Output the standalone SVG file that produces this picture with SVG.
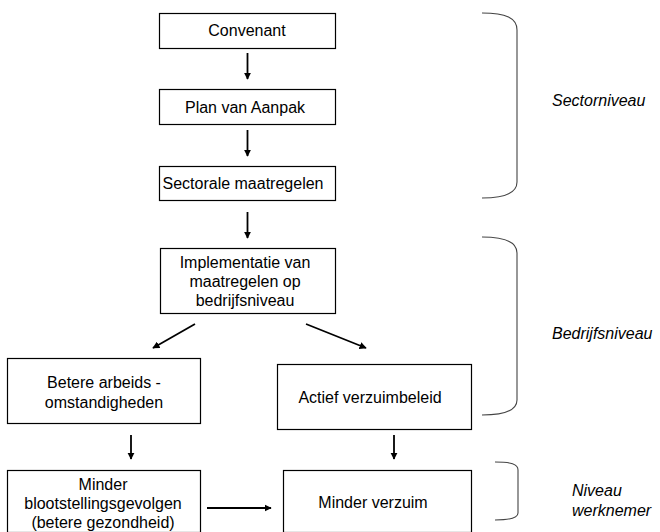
<svg xmlns="http://www.w3.org/2000/svg" width="660" height="532" viewBox="0 0 660 532">
<defs>
<style>
.box{fill:#fff;stroke:#000;stroke-width:1.2}
.t{font-family:"Liberation Sans",Arial,sans-serif;font-size:16px;fill:#000;text-anchor:middle}
.lbl{font-family:"Liberation Sans",Arial,sans-serif;font-size:16px;font-style:italic;fill:#000}
.arr{stroke:#000;stroke-width:1.8;fill:none;marker-end:url(#ah)}
.brace{stroke:#444;stroke-width:1.1;fill:none}
</style>
<marker id="ah" viewBox="0 0 10 10" refX="9" refY="5" markerWidth="4" markerHeight="4" markerUnits="strokeWidth" orient="auto">
<path d="M0,0 L10,5 L0,10 z" fill="#000"/>
</marker>
</defs>
<rect width="660" height="532" fill="#fff"/>
<g id="n1"><rect class="box" x="159.5" y="13.5" width="176" height="35"/><text class="t" x="247" y="36">Convenant</text></g>
<g id="n2"><rect class="box" x="159.5" y="89.5" width="176" height="35"/><text class="t" x="245" y="113">Plan van Aanpak</text></g>
<g id="n3"><rect class="box" x="159.5" y="166.5" width="176" height="34"/><text class="t" x="243" y="189">Sectorale maatregelen</text></g>
<g id="n4"><rect class="box" x="160.5" y="248.5" width="175" height="65"/><text class="t" x="245" y="268">Implementatie van</text><text class="t" x="245" y="287">maatregelen op</text><text class="t" x="245" y="306">bedrijfsniveau</text></g>
<g id="n5"><rect class="box" x="7.5" y="358.5" width="193" height="65"/><text class="t" x="104" y="388">Betere  arbeids -</text><text class="t" x="104" y="408">omstandigheden</text></g>
<g id="n6"><rect class="box" x="277.5" y="364.5" width="194" height="65"/><text class="t" x="370" y="403">Actief verzuimbeleid</text></g>
<g id="n7"><rect class="box" x="7.5" y="470.5" width="193" height="62"/><text class="t" x="103" y="490">Minder</text><text class="t" x="103" y="509">blootstellingsgevolgen</text><text class="t" x="103" y="528">(betere gezondheid)</text></g>
<g id="n8"><rect class="box" x="283.5" y="470.5" width="188" height="62"/><text class="t" x="373" y="508">Minder verzuim</text></g>
<g id="connectors">
<line class="arr" x1="247.5" y1="53" x2="247.5" y2="79"/>
<line class="arr" x1="247.5" y1="130" x2="247.5" y2="156"/>
<line class="arr" x1="247.5" y1="212" x2="247.5" y2="238"/>
<line class="arr" x1="195" y1="324" x2="153" y2="348"/>
<line class="arr" x1="306" y1="324" x2="366" y2="348"/>
<line class="arr" x1="131" y1="435" x2="131" y2="459"/>
<line class="arr" x1="394" y1="435" x2="394" y2="459"/>
<line class="arr" x1="207" y1="508" x2="271" y2="508"/>
</g>
<g id="braces">
<path class="brace" d="M482,13 C506,13 517,18 517,30 L517,182 C517,193 506,198 482,198"/>
<path class="brace" d="M482,237 C506,237 517,242 517,253 L517,400 C517,410 506,415 482,415"/>
<path class="brace" d="M495,462 C511,462 518,464 518,470 L518,513 C518,518 511,520 495,520"/>
</g>
<g id="labels">
<text class="lbl" x="552" y="106">Sectorniveau</text>
<text class="lbl" x="552" y="339">Bedrijfsniveau</text>
<text class="lbl" x="572" y="496">Niveau</text>
<text class="lbl" x="572" y="516">werknemer</text>
</g>
</svg>
